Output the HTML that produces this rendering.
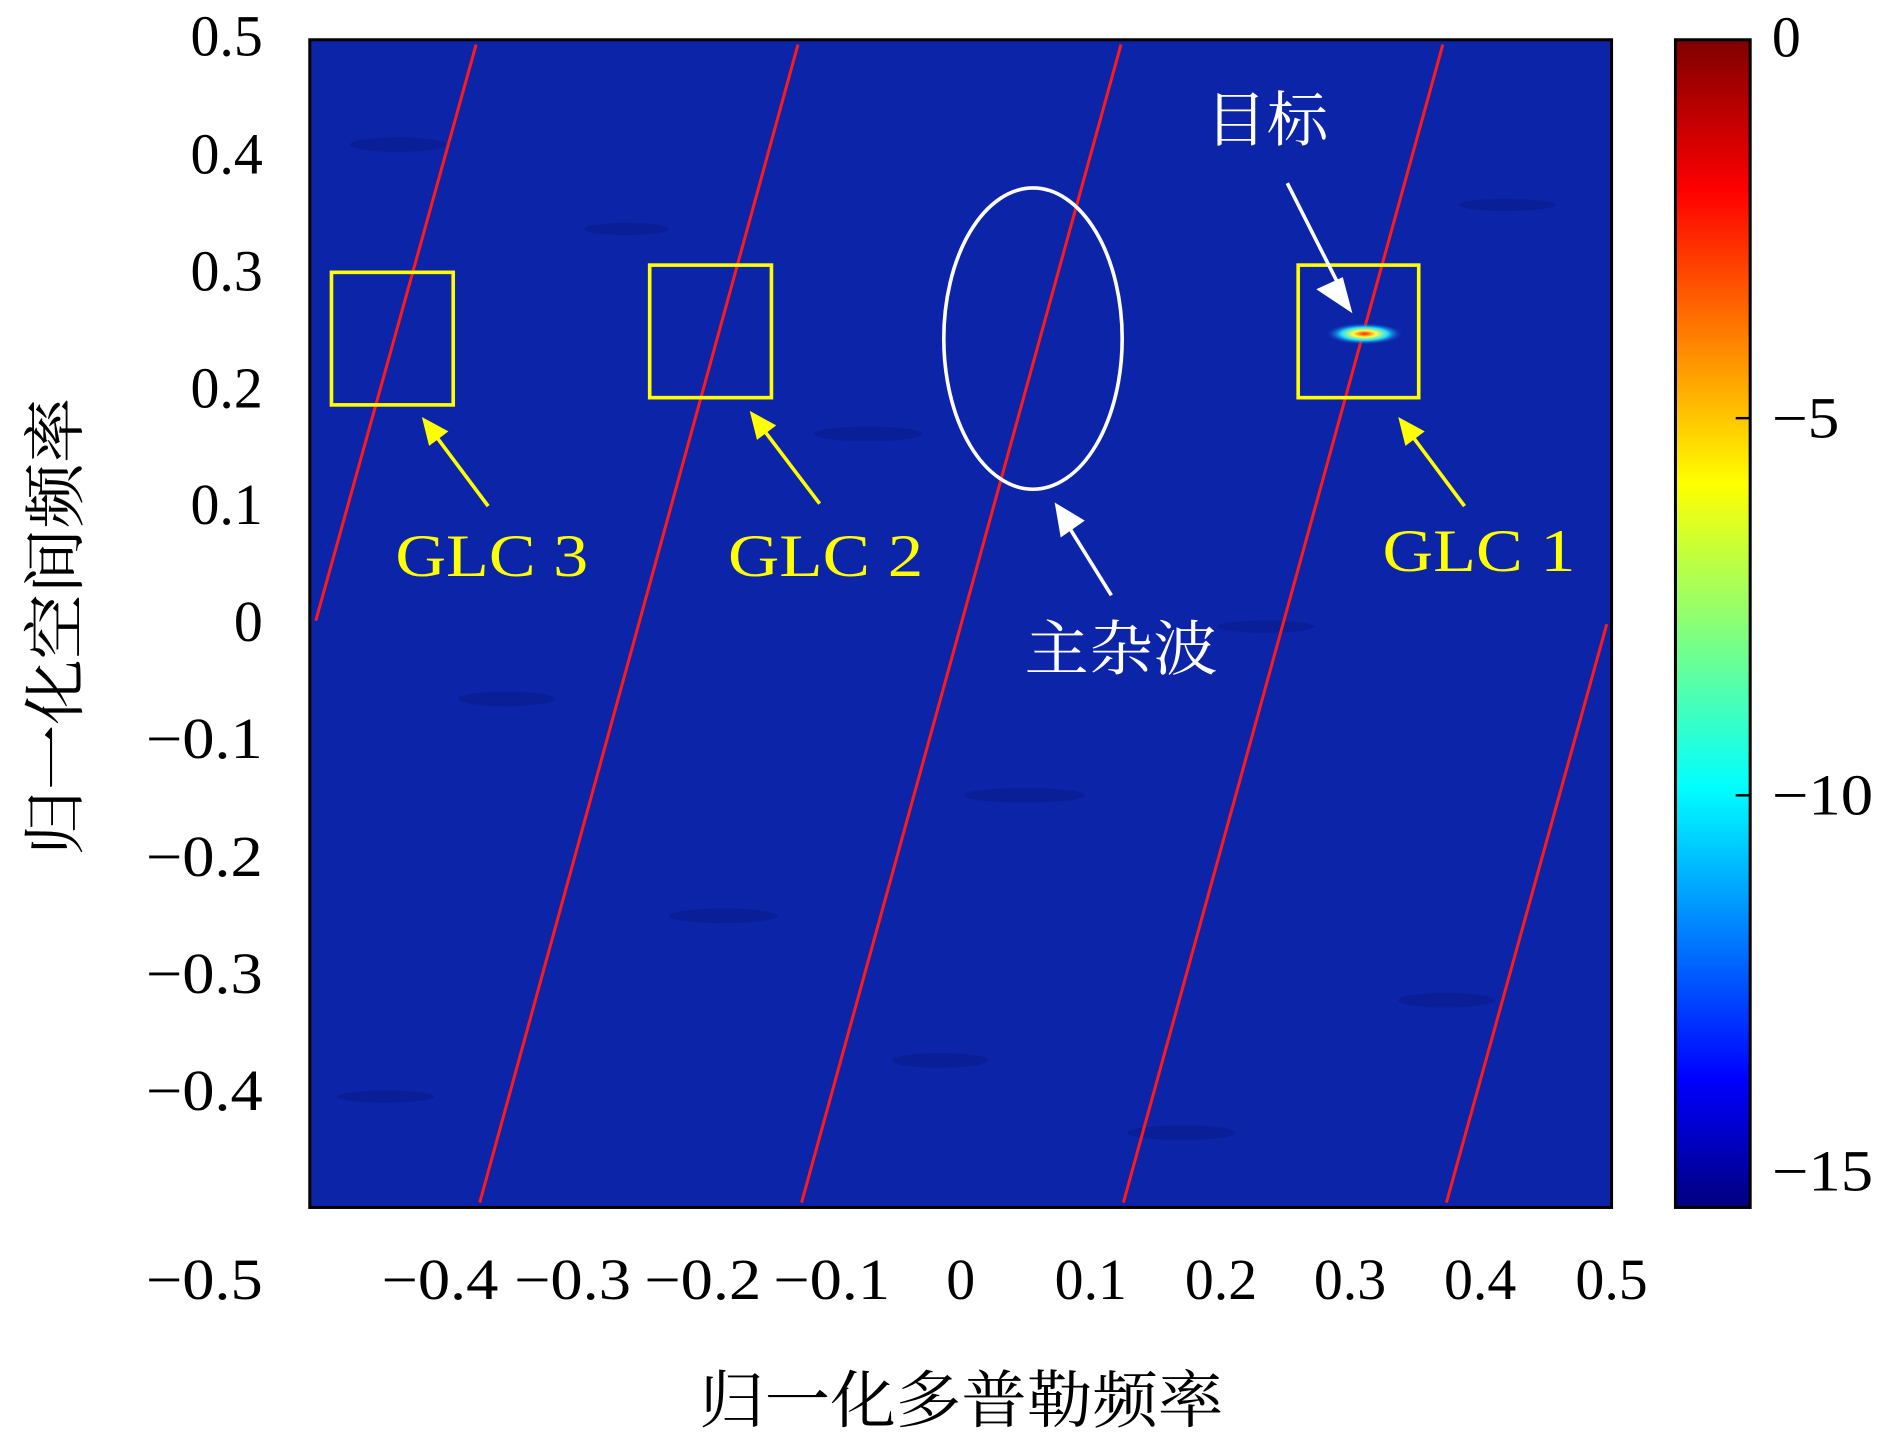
<!DOCTYPE html>
<html><head><meta charset="utf-8"><style>
html,body{margin:0;padding:0;background:#fff;}
svg{display:block;}
text{font-family:"Liberation Serif","Noto Serif CJK SC",serif;}
</style></head><body>
<svg width="1890" height="1434" viewBox="0 0 1568 1190" preserveAspectRatio="none" xmlns="http://www.w3.org/2000/svg">
<defs>
<linearGradient id="jet" x1="0" y1="1" x2="0" y2="0">
<stop offset="0" stop-color="#00007f"/>
<stop offset="0.11" stop-color="#0000ff"/>
<stop offset="0.36" stop-color="#00ffff"/>
<stop offset="0.62" stop-color="#ffff00"/>
<stop offset="0.87" stop-color="#ff0000"/>
<stop offset="1" stop-color="#7f0000"/>
</linearGradient>
<radialGradient id="blob">
<stop offset="0" stop-color="#ff2000"/>
<stop offset="0.3" stop-color="#ffff40"/>
<stop offset="0.6" stop-color="#20e0ff"/>
<stop offset="1" stop-color="#1030c0" stop-opacity="0"/>
</radialGradient>
</defs>
<rect x="257" y="33" width="1080" height="969" fill="#0b24a8"/>
<g fill="#081a8c" opacity="0.6">
<ellipse cx="330" cy="120" rx="40" ry="6"/><ellipse cx="520" cy="190" rx="35" ry="5"/>
<ellipse cx="720" cy="360" rx="45" ry="6"/><ellipse cx="420" cy="580" rx="40" ry="6"/>
<ellipse cx="850" cy="660" rx="50" ry="6"/><ellipse cx="1050" cy="520" rx="40" ry="5"/>
<ellipse cx="600" cy="760" rx="45" ry="6"/><ellipse cx="1200" cy="830" rx="40" ry="6"/>
<ellipse cx="320" cy="910" rx="40" ry="5"/><ellipse cx="980" cy="940" rx="45" ry="6"/>
<ellipse cx="1250" cy="170" rx="40" ry="5"/><ellipse cx="780" cy="880" rx="40" ry="6"/>
</g>
<g stroke="#ff1a1a" stroke-width="2.5">
<line x1="262" y1="515" x2="395" y2="37"/>
<line x1="398" y1="998" x2="662" y2="37"/>
<line x1="665" y1="998" x2="930" y2="37"/>
<line x1="932" y1="998" x2="1197" y2="37"/>
<line x1="1200" y1="998" x2="1333" y2="518"/>
</g>
<ellipse cx="1132" cy="277" rx="32" ry="9" fill="url(#blob)"/>
<rect x="257" y="33" width="1080" height="969" fill="none" stroke="#000" stroke-width="2.5"/>
<g fill="none" stroke="#ffff00" stroke-width="3">
<rect x="275" y="226" width="101" height="110"/>
<rect x="539" y="220" width="101" height="110"/>
<rect x="1077" y="220" width="100" height="110"/>
<line x1="405" y1="420" x2="358" y2="357"/>
<line x1="680" y1="418" x2="630" y2="352"/>
<line x1="1215" y1="420" x2="1168" y2="357"/>
</g>
<g fill="#ffff00">
<polygon points="350,346 372,358 356,370"/>
<polygon points="622,341 644,353 628,365"/>
<polygon points="1160,346 1182,358 1166,370"/>
</g>
<g fill="#ffff00" font-size="50">
<text x="328" y="478" textLength="160" lengthAdjust="spacingAndGlyphs">GLC 3</text>
<text x="604" y="478" textLength="162" lengthAdjust="spacingAndGlyphs">GLC 2</text>
<text x="1147" y="474" textLength="160" lengthAdjust="spacingAndGlyphs">GLC 1</text>
</g>
<ellipse cx="857" cy="281" rx="74" ry="125" fill="none" stroke="#fff" stroke-width="3"/>
<g stroke="#fff" stroke-width="3"><line x1="922" y1="494" x2="881" y2="428"/><line x1="1068" y1="152" x2="1115" y2="245"/></g>
<g fill="#fff">
<polygon points="875,417 900,432 880,446"/>
<polygon points="1122,260 1092,240 1114,230"/>
</g>
<g fill="#fff" font-size="50">
<text x="850" y="556" textLength="160" lengthAdjust="spacingAndGlyphs">主杂波</text>
<text x="1000" y="117" textLength="102" lengthAdjust="spacingAndGlyphs">目标</text>
</g>
<rect x="1390" y="33" width="62" height="969" fill="url(#jet)" stroke="#000" stroke-width="2.5"/>
<g stroke="#000" stroke-width="2">
<line x1="1440" y1="347" x2="1452" y2="347"/><line x1="1440" y1="660" x2="1452" y2="660"/>
</g>
<g font-size="48" fill="#000">
<text x="1470" y="47">0</text>
<text x="1470" y="363" textLength="56" lengthAdjust="spacingAndGlyphs">−5</text>
<text x="1470" y="676" textLength="84" lengthAdjust="spacingAndGlyphs">−10</text>
<text x="1470" y="988" textLength="84" lengthAdjust="spacingAndGlyphs">−15</text>
</g>
<g font-size="48" fill="#000" text-anchor="end">
<text x="218" y="46">0.5</text>
<text x="218" y="144">0.4</text>
<text x="218" y="241">0.3</text>
<text x="218" y="338">0.2</text>
<text x="218" y="435">0.1</text>
<text x="218" y="532">0</text>
<text x="218" y="629" textLength="97" lengthAdjust="spacingAndGlyphs">−0.1</text>
<text x="218" y="727" textLength="97" lengthAdjust="spacingAndGlyphs">−0.2</text>
<text x="218" y="824" textLength="97" lengthAdjust="spacingAndGlyphs">−0.3</text>
<text x="218" y="921" textLength="97" lengthAdjust="spacingAndGlyphs">−0.4</text>
<text x="218" y="1078" textLength="97" lengthAdjust="spacingAndGlyphs">−0.5</text>
</g>
<g font-size="48" fill="#000" text-anchor="middle">
<text x="365" y="1078" textLength="97" lengthAdjust="spacingAndGlyphs">−0.4</text>
<text x="475" y="1078" textLength="97" lengthAdjust="spacingAndGlyphs">−0.3</text>
<text x="583" y="1078" textLength="97" lengthAdjust="spacingAndGlyphs">−0.2</text>
<text x="690" y="1078" textLength="97" lengthAdjust="spacingAndGlyphs">−0.1</text>
<text x="797" y="1078">0</text>
<text x="905" y="1078">0.1</text>
<text x="1013" y="1078">0.2</text>
<text x="1120" y="1078">0.3</text>
<text x="1228" y="1078">0.4</text>
<text x="1337" y="1078">0.5</text>
</g>
<text x="580" y="1180" font-size="52" textLength="435" lengthAdjust="spacingAndGlyphs">归一化多普勒频率</text>
<text transform="translate(64,330) rotate(-90)" font-size="52" text-anchor="end" textLength="380" lengthAdjust="spacingAndGlyphs" x="-0" y="0" dx="0">归一化空间频率</text>
</svg>
</body></html>
